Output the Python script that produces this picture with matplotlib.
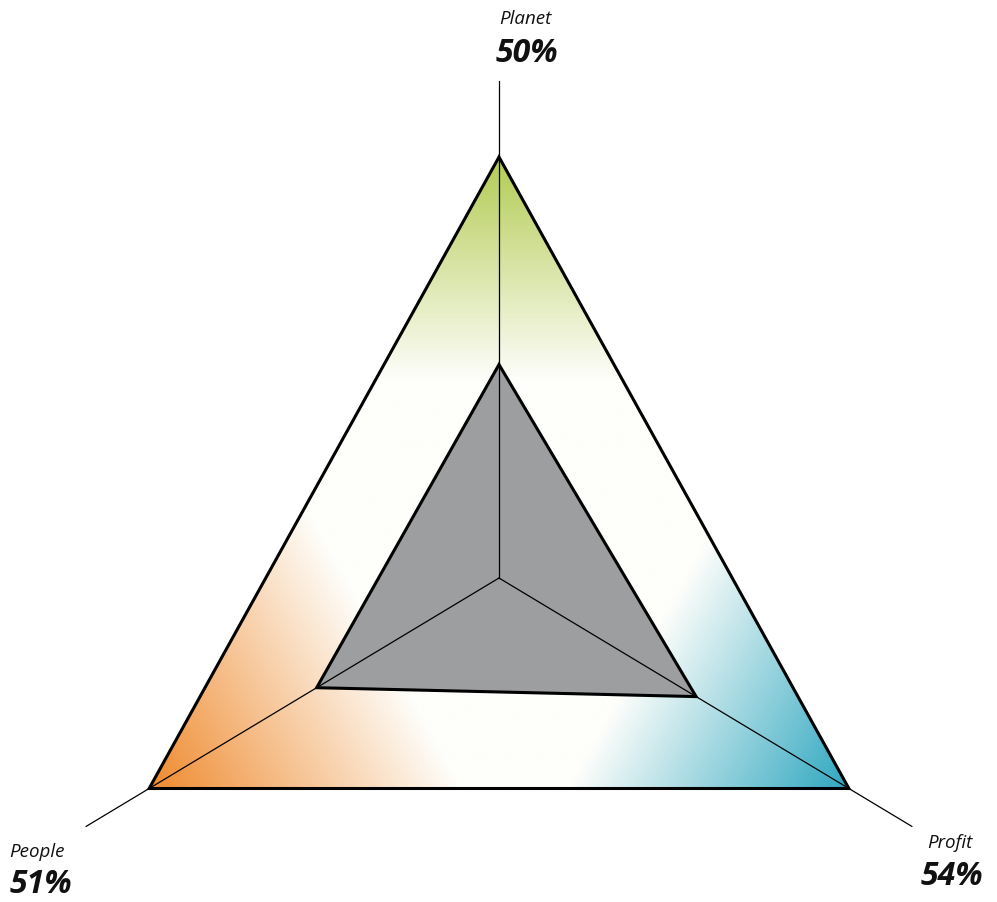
import numpy as np
import matplotlib
matplotlib.use("Agg")
import matplotlib.pyplot as plt
from matplotlib.patches import Polygon

# ---- data ----
axis_names = ["Planet", "Profit", "People"]
values = [50, 54, 51]            # percent
angles_deg = [90, -30, 210]
corner_colors = ["#b3cb52", "#2ea7c0", "#ef8a2e"]
fade_start = [0.47, 0.40, 0.33]  # fraction of radius where corner colour fades to white
scale_min, scale_max = 14, 85    # radial scale of the chart

# ---- figure ----
fig = plt.figure(figsize=(9.97, 9.03), dpi=100)
ax = fig.add_axes([0, 0, 1, 1])
ax.set_xlim(-499 / 404, 498 / 404)
ax.set_ylim(-324 / 421, 579 / 421)
ax.axis("off")

ang = np.deg2rad(angles_deg)
ux, uy = np.cos(ang), np.sin(ang)

outer = np.column_stack([ux, uy])
r_vals = [(v - scale_min) / (scale_max - scale_min) for v in values]
inner = np.column_stack([ux * r_vals, uy * r_vals])

# ---- gradient fill inside outer triangle ----
xmin, xmax = outer[:, 0].min() - 0.02, outer[:, 0].max() + 0.02
ymin, ymax = outer[:, 1].min() - 0.02, outer[:, 1].max() + 0.02
N = 900
gx, gy = np.meshgrid(np.linspace(xmin, xmax, N), np.linspace(ymin, ymax, N))
base = np.array(matplotlib.colors.to_rgb("#fefefb"))
rgb = np.ones((N, N, 3)) * base
for i in range(3):
    t = gx * ux[i] + gy * uy[i]
    w = np.clip((t - fade_start[i]) / (1 - fade_start[i]), 0, 1)
    c = np.array(matplotlib.colors.to_rgb(corner_colors[i]))
    rgb = rgb * (1 - w[..., None]) + c * w[..., None]

im = ax.imshow(rgb, extent=(xmin, xmax, ymin, ymax), origin="lower",
               interpolation="bilinear", aspect="auto", zorder=1)
clip = Polygon(outer, closed=True, transform=ax.transData, fill=False, lw=0)
ax.add_patch(clip)
im.set_clip_path(clip)

# inner filled triangle
ax.add_patch(Polygon(inner, closed=True, fc="#9d9ea0", ec="none", zorder=2))

# axis lines
ext = 1.18
for i in range(3):
    ax.plot([0, ux[i] * ext], [0, uy[i] * ext], color="black", lw=0.9, zorder=3)

# outlines
ax.add_patch(Polygon(outer, closed=True, fill=False, ec="black", lw=2.2,
                     joinstyle="miter", zorder=4))
ax.add_patch(Polygon(inner, closed=True, fill=False, ec="black", lw=2.2,
                     joinstyle="miter", zorder=4))

# ---- labels ----
font = "Open Sans"
label_pos = [  # (x_name, y_name, x_val, y_val, ha)
    (0.066, 1.318, 0.069, 1.228, "center"),
    (1.173, -0.638, 1.198, -0.727, "right"),
    (-1.212, -0.660, -1.212, -0.745, "left"),
]
for name, v, (xn, yn, xv, yv, ha) in zip(axis_names, values, label_pos):
    ax.text(xn, yn, name, ha=ha, va="baseline", fontsize=13.5, style="italic",
            family=font, color="#111111")
    ax.text(xv, yv, f"{v}%", ha=ha, va="baseline", fontsize=23, style="italic",
            weight="bold", family=font, color="#111111")

fig.savefig("out.png", dpi=100)
